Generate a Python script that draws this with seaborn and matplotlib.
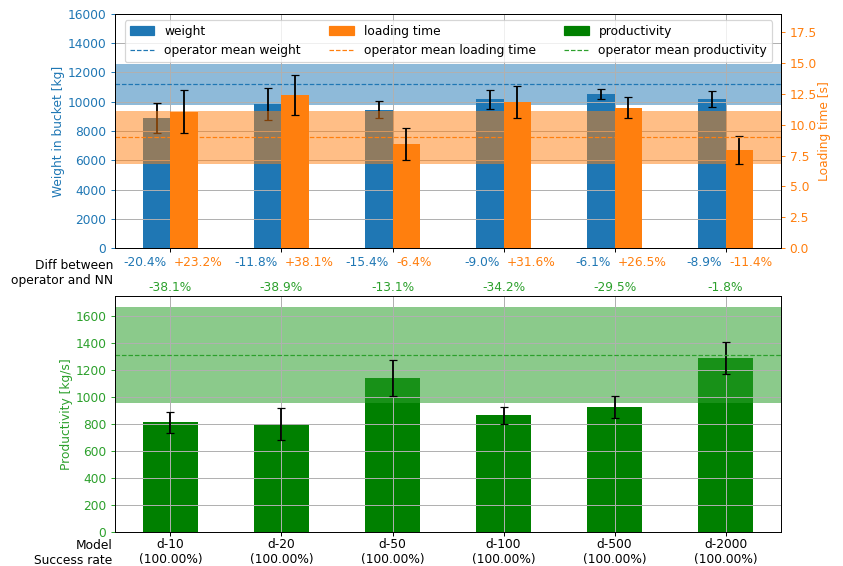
import numpy as np
import pandas as pd
import seaborn as sns
import matplotlib.pyplot as plt
from matplotlib.patches import Patch
from matplotlib.lines import Line2D

models = ['d-10', 'd-20', 'd-50', 'd-100', 'd-500', 'd-2000']
success_rate = [100.0, 100.0, 100.0, 100.0, 100.0, 100.0]

weight = [8900, 9860, 9460, 10170, 10500, 10185]
weight_err = [1020, 1080, 560, 650, 340, 560]
loading = [11.08, 12.43, 8.42, 11.84, 11.38, 7.97]
loading_err = [1.78, 1.62, 1.31, 1.29, 0.85, 1.11]
productivity = [811, 800, 1138, 862, 924, 1286]
productivity_err = [78, 118, 135, 65, 78, 118]

op_weight_mean, op_weight_std = 11180, 1410
op_loading_mean, op_loading_std = 9.0, 2.15
op_prod_mean, op_prod_std = 1310, 355

diff_weight = [-20.4, -11.8, -15.4, -9.0, -6.1, -8.9]
diff_loading = [23.2, 38.1, -6.4, 31.6, 26.5, -11.4]
diff_prod = [-38.1, -38.9, -13.1, -34.2, -29.5, -1.8]

df = pd.DataFrame({'model': models * 2,
                   'kind': ['weight'] * 6 + ['loading time'] * 6,
                   'value': weight + loading})
kinds = ['weight', 'loading time']
xpos = np.arange(len(models))

DPI = 88
fig = plt.figure(figsize=(843 / DPI, 566 / DPI), dpi=DPI)
ax1 = fig.add_axes([0.1364, 0.5618, 0.7901, 0.4135])
ax2 = fig.add_axes([0.1364, 0.0601, 0.7901, 0.4169])

# top: weight (left) and loading time (right)
sns.barplot(data=df[df.kind == 'weight'], x='model', y='value', hue='kind',
            hue_order=kinds, order=models, palette=['C0', 'C1'], width=0.5, dodge=True,
            saturation=1, legend=False, ax=ax1)
ax1.errorbar(xpos - 0.125, weight, yerr=weight_err, fmt='none', ecolor='black', capsize=3.3)
ax1.axhspan(op_weight_mean - op_weight_std, op_weight_mean + op_weight_std, color='C0', alpha=0.5, lw=0)
ax1.axhline(op_weight_mean, color='C0', ls='--', lw=1)
ax1.set_ylim(0, 16000)
ax1.set_yticks(np.arange(0, 16001, 2000))
ax1.set_xlim(-0.5, 5.5)
ax1.grid(True)
ax1.set_xlabel('')
ax1.set_ylabel('Weight in bucket [kg]', color='C0', labelpad=2)
ax1.tick_params(axis='y', colors='C0')
ax1.tick_params(axis='x', labelbottom=False)

ax1b = ax1.twinx()
sns.barplot(data=df[df.kind == 'loading time'], x='model', y='value', hue='kind',
            hue_order=kinds, order=models, palette=['C0', 'C1'], width=0.5, dodge=True,
            saturation=1, legend=False, ax=ax1b)
ax1b.errorbar(xpos + 0.125, loading, yerr=loading_err, fmt='none', ecolor='black', capsize=3.3)
ax1b.axhspan(op_loading_mean - op_loading_std, op_loading_mean + op_loading_std, color='C1', alpha=0.5, lw=0)
ax1b.axhline(op_loading_mean, color='C1', ls='--', lw=1)
ax1b.set_ylim(0, 19)
ax1b.set_yticks(np.arange(0, 17.6, 2.5))
ax1b.set_xlim(-0.5, 5.5)
ax1b.set_xlabel('')
ax1b.set_ylabel('Loading time [s]', color='C1', labelpad=1)
ax1b.tick_params(axis='y', colors='C1')

for i in xpos:
    ax1.text(i - 0.032, -0.06, f'{diff_weight[i]:+.1f}%', color='C0', ha='right', va='center',
             transform=ax1.get_xaxis_transform())
    ax1.text(i + 0.032, -0.06, f'{diff_loading[i]:+.1f}%', color='C1', ha='left', va='center',
             transform=ax1.get_xaxis_transform())
    ax1.text(i, -0.167, f'{diff_prod[i]:+.1f}%', color='C2', ha='center', va='center',
             transform=ax1.get_xaxis_transform())
ax1.text(-0.003, -0.105, 'Diff between\noperator and NN', ha='right', va='center',
         transform=ax1.transAxes)

handles = [Patch(color='C0', label='weight'),
           Line2D([], [], color='C0', ls='--', lw=1, label='operator mean weight'),
           Patch(color='C1', label='loading time'),
           Line2D([], [], color='C1', ls='--', lw=1, label='operator mean loading time'),
           Patch(color='green', label='productivity'),
           Line2D([], [], color='C2', ls='--', lw=1, label='operator mean productivity')]
ax1b.legend(handles=handles, ncol=3, loc='upper left', mode='expand', borderaxespad=0,
            bbox_to_anchor=(0.015, 0, 0.9715, 0.974))

# bottom: productivity
sns.barplot(x=models, y=productivity, color='green', saturation=1, width=0.5, ax=ax2)
ax2.errorbar(xpos, productivity, yerr=productivity_err, fmt='none', ecolor='black', capsize=3.3)
ax2.axhspan(op_prod_mean - op_prod_std, op_prod_mean + op_prod_std, color='C2', alpha=0.55, lw=0)
ax2.axhline(op_prod_mean, color='C2', ls='--', lw=1)
ax2.set_ylim(0, 1745)
ax2.set_yticks(np.arange(0, 1601, 200))
ax2.set_xlim(-0.5, 5.5)
ax2.grid(True)
ax2.set_ylabel('Productivity [kg/s]', color='C2', labelpad=2)
ax2.tick_params(axis='y', colors='C2')
ax2.tick_params(axis='x', pad=1.2)
ax2.set_xticks(xpos)
ax2.set_xticklabels([f'{m}\n({s:.2f}%)' for m, s in zip(models, success_rate)])
ax2.annotate('Model\nSuccess rate', xy=(0, 0), xycoords='axes fraction', xytext=(-2, -5.5),
             textcoords='offset points', ha='right', va='top')

fig.savefig('out.png', dpi=DPI)
